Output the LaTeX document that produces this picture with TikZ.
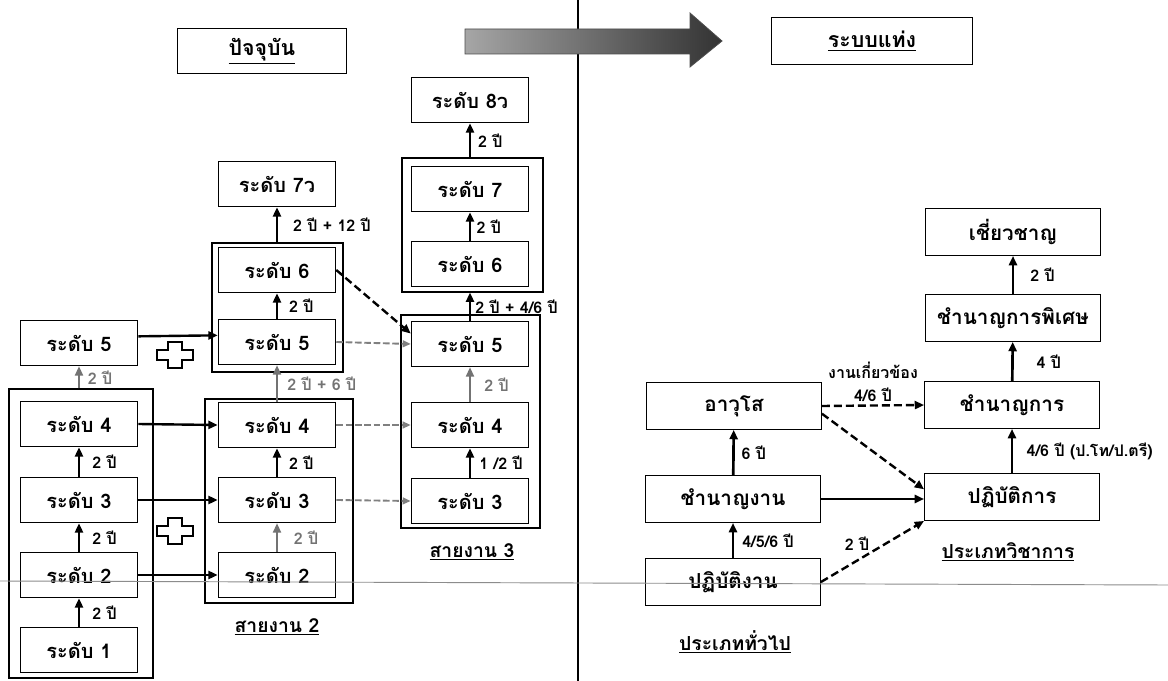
\documentclass[tikz,border=0pt]{standalone}
\usepackage{fontspec}
\newfontfamily\thaifont[Script=Thai]{Loma}
\usetikzlibrary{arrows.meta,fit,positioning}

\begin{document}
\begin{tikzpicture}[x=0.75pt,y=-0.75pt,
    lvl/.style={draw,line width=0.9pt,fill=white,minimum width=88pt,minimum height=34pt,inner sep=0pt,font=\thaifont\bfseries\fontsize{15}{17}\selectfont},
    rankbox/.style={lvl,minimum width=131pt,minimum height=35pt,font=\thaifont\bfseries\fontsize{15.5}{17}\selectfont},
    grp/.style={draw,line width=0.8pt,inner sep=0pt},
    headbox/.style={draw,line width=0.9pt,inner sep=0pt,font=\thaifont\bfseries\fontsize{16}{18}\selectfont},
    lbl/.style={font=\thaifont\bfseries\fontsize{12}{14}\selectfont,inner sep=1pt},
    groupname/.style={font=\thaifont\bfseries\fontsize{14.5}{16}\selectfont,inner sep=1pt},
    stepup/.style={line width=2pt,-{Triangle[length=7pt,width=6pt]}},
    stepgray/.style={stepup,black!55,line width=1.4pt},
    linkto/.style={line width=1.8pt,-{Triangle[length=7pt,width=6pt]}},
    linkgray/.style={black!50,line width=1.4pt,dash pattern=on 5pt off 2pt,-{Triangle[length=6pt,width=5pt]}},
    dlink/.style={line width=1.8pt,dash pattern=on 6pt off 3pt,-{Triangle[length=7pt,width=6pt]}},
    plusmark/.style={draw,line width=0.9pt,fill=white}]
  \useasboundingbox (0,0) rectangle (1168,681);
  \fill[white] (0,0) rectangle (1168,681);
  \draw[line width=1pt] (578,0) -- (578,681);

  \node[headbox,minimum width=127pt,minimum height=34pt] (now) at (262,51) {\underline{ปัจจุบัน}};
  \node[headbox,minimum width=151pt,minimum height=35pt] (bar) at (872,41) {\underline{ระบบแท่ง}};
  \shade[left color=black!35,right color=black!80,draw=black!70,line width=0.6pt]
    (465,29) -- (690,29) -- (690,13) -- (722,41) -- (690,67) -- (690,54) -- (465,54) -- cycle;

  \foreach \n/\y in {1/650,2/575,3/500,4/424,5/343}
    \node[lvl] (L\n) at (79,\y) {ระดับ \n};
  \foreach \n/\y in {2/575,3/500,4/425,5/342,6/270}
    \node[lvl] (C\n) at (277,\y) {ระดับ \n};
  \node[lvl] (C7) at (277,184) {ระดับ 7ว};
  \foreach \n/\y in {3/501,4/425,5/344,6/264,7/189}
    \node[lvl] (R\n) at (470,\y) {ระดับ \n};
  \node[lvl] (R8) at (470,100) {ระดับ 8ว};

  \node[grp,fit={(9,389) (153,678)}] (GL) {};
  \node[grp,fit={(212,243) (343,372)}] (GC1) {};
  \node[grp,fit={(205,399) (353,603)}] (GC2) {};
  \node[grp,fit={(402,158) (543,292)}] (GR1) {};
  \node[grp,fit={(401,315) (540,528)}] (GR2) {};

  \node[groupname] (line2) at (277,627) {\underline{สายงาน 2}};
  \node[groupname] (line3) at (472,552) {\underline{สายงาน 3}};

  \foreach \py in {355,531}
    \draw[plusmark,shift={(175,\py)}] (-18,-5) -- (-7,-5) -- (-7,-13) -- (7,-13) -- (7,-5) -- (18,-5)
      -- (18,5) -- (7,5) -- (7,13) -- (-7,13) -- (-7,5) -- (-18,5) -- cycle;

  \draw[stepup] (L1) -- (L2) node[lbl,midway,right=8pt] {2 ปี};
  \draw[stepup] (L2) -- (L3) node[lbl,midway,right=8pt] {2 ปี};
  \draw[stepup] (L3) -- (L4) node[lbl,midway,right=8pt] {2 ปี};
  \draw[stepgray] (L5 |- GL.north) -- (L5.south) node[lbl,midway,right=5pt] {2 ปี};
  \draw[linkto] ([yshift=5pt]L5.east) -- ([yshift=5pt]C5.west);
  \foreach \n in {2,3,4}
    \draw[linkto] (L\n.east) -- (C\n.west);

  \draw[stepgray] (C2) -- (C3) node[lbl,midway,right=11pt] {2 ปี};
  \draw[stepup] (C3) -- (C4) node[lbl,midway,right=7pt] {2 ปี};
  \draw[stepgray] (C4) -- (C5) node[lbl,midway,right=6pt] {2 ปี + 6 ปี};
  \draw[stepup] (C5) -- (C6) node[lbl,midway,right=7pt] {2 ปี};
  \draw[stepup] (C7 |- GC1.north) -- (C7.south) node[lbl,midway,right=10pt] {2 ปี + 12 ปี};
  \foreach \n in {3,4,5}
    \draw[linkgray] (C\n.east) -- (R\n.west);
  \draw[dlink] (C6.east) -- (R5.170);

  \draw[stepup] (R3) -- (R4) node[lbl,midway,right=5pt] {1 /2 ปี};
  \draw[stepgray] (R4) -- (R5) node[lbl,midway,right=9pt] {2 ปี};
  \draw[stepup] (R5.north) -- (R5 |- GR1.south) node[lbl,midway,right=2pt] {2 ปี + 4/6 ปี};
  \draw[stepup] (R6) -- (R7) node[lbl,midway,right=3pt] {2 ปี};
  \draw[stepup] (R8 |- GR1.north) -- (R8.south) node[lbl,midway,right=4pt] {2 ปี};

  \node[rankbox] (P1) at (733,582) {ปฏิบัติงาน};
  \node[rankbox] (P2) at (733,499) {ชำนาญงาน};
  \node[rankbox] (P3) at (734,406) {อาวุโส};
  \node[rankbox] (K1) at (1012,497) {ปฏิบัติการ};
  \node[rankbox] (K2) at (1012,405) {ชำนาญการ};
  \node[rankbox] (K3) at (1013,318) {ชำนาญการพิเศษ};
  \node[rankbox] (K4) at (1013,232) {เชี่ยวชาญ};
  \node[groupname] (general) at (735,642) {\underline{ประเภททั่วไป}};
  \node[groupname] (academic) at (1008,552) {\underline{ประเภทวิชาการ}};

  \draw[stepup] (P1) -- (P2) node[lbl,midway,right=5pt] {4/5/6 ปี};
  \draw[stepup] (P2) -- (P3) node[lbl,midway,right=4pt] {6 ปี};
  \draw[stepup] (K1) -- (K2) node[lbl,midway,right=9pt] {4/6 ปี (ป.โท/ป.ตรี)};
  \draw[stepup] (K2) -- (K3) node[lbl,midway,right=16pt] {4 ปี};
  \draw[stepup] (K3) -- (K4) node[lbl,midway,right=11pt] {2 ปี};
  \draw[dlink] (P3.east) -- (K2.west)
    node[lbl,midway,above=1pt,align=center] {งานเกี่ยวข้อง\\[3pt]4/6 ปี};
  \draw[dlink] (P3.-5) -- (K1.175);
  \draw[linkto] (P2.east) -- (P2.east -| K1.west);
  \draw[dlink] (P1.east) -- (K1.south west) node[lbl,pos=0.35,above=6pt] {2 ปี};

  \draw[black!45,line width=0.7pt] (0,581) -- (1168,585);
\end{tikzpicture}
\end{document}
